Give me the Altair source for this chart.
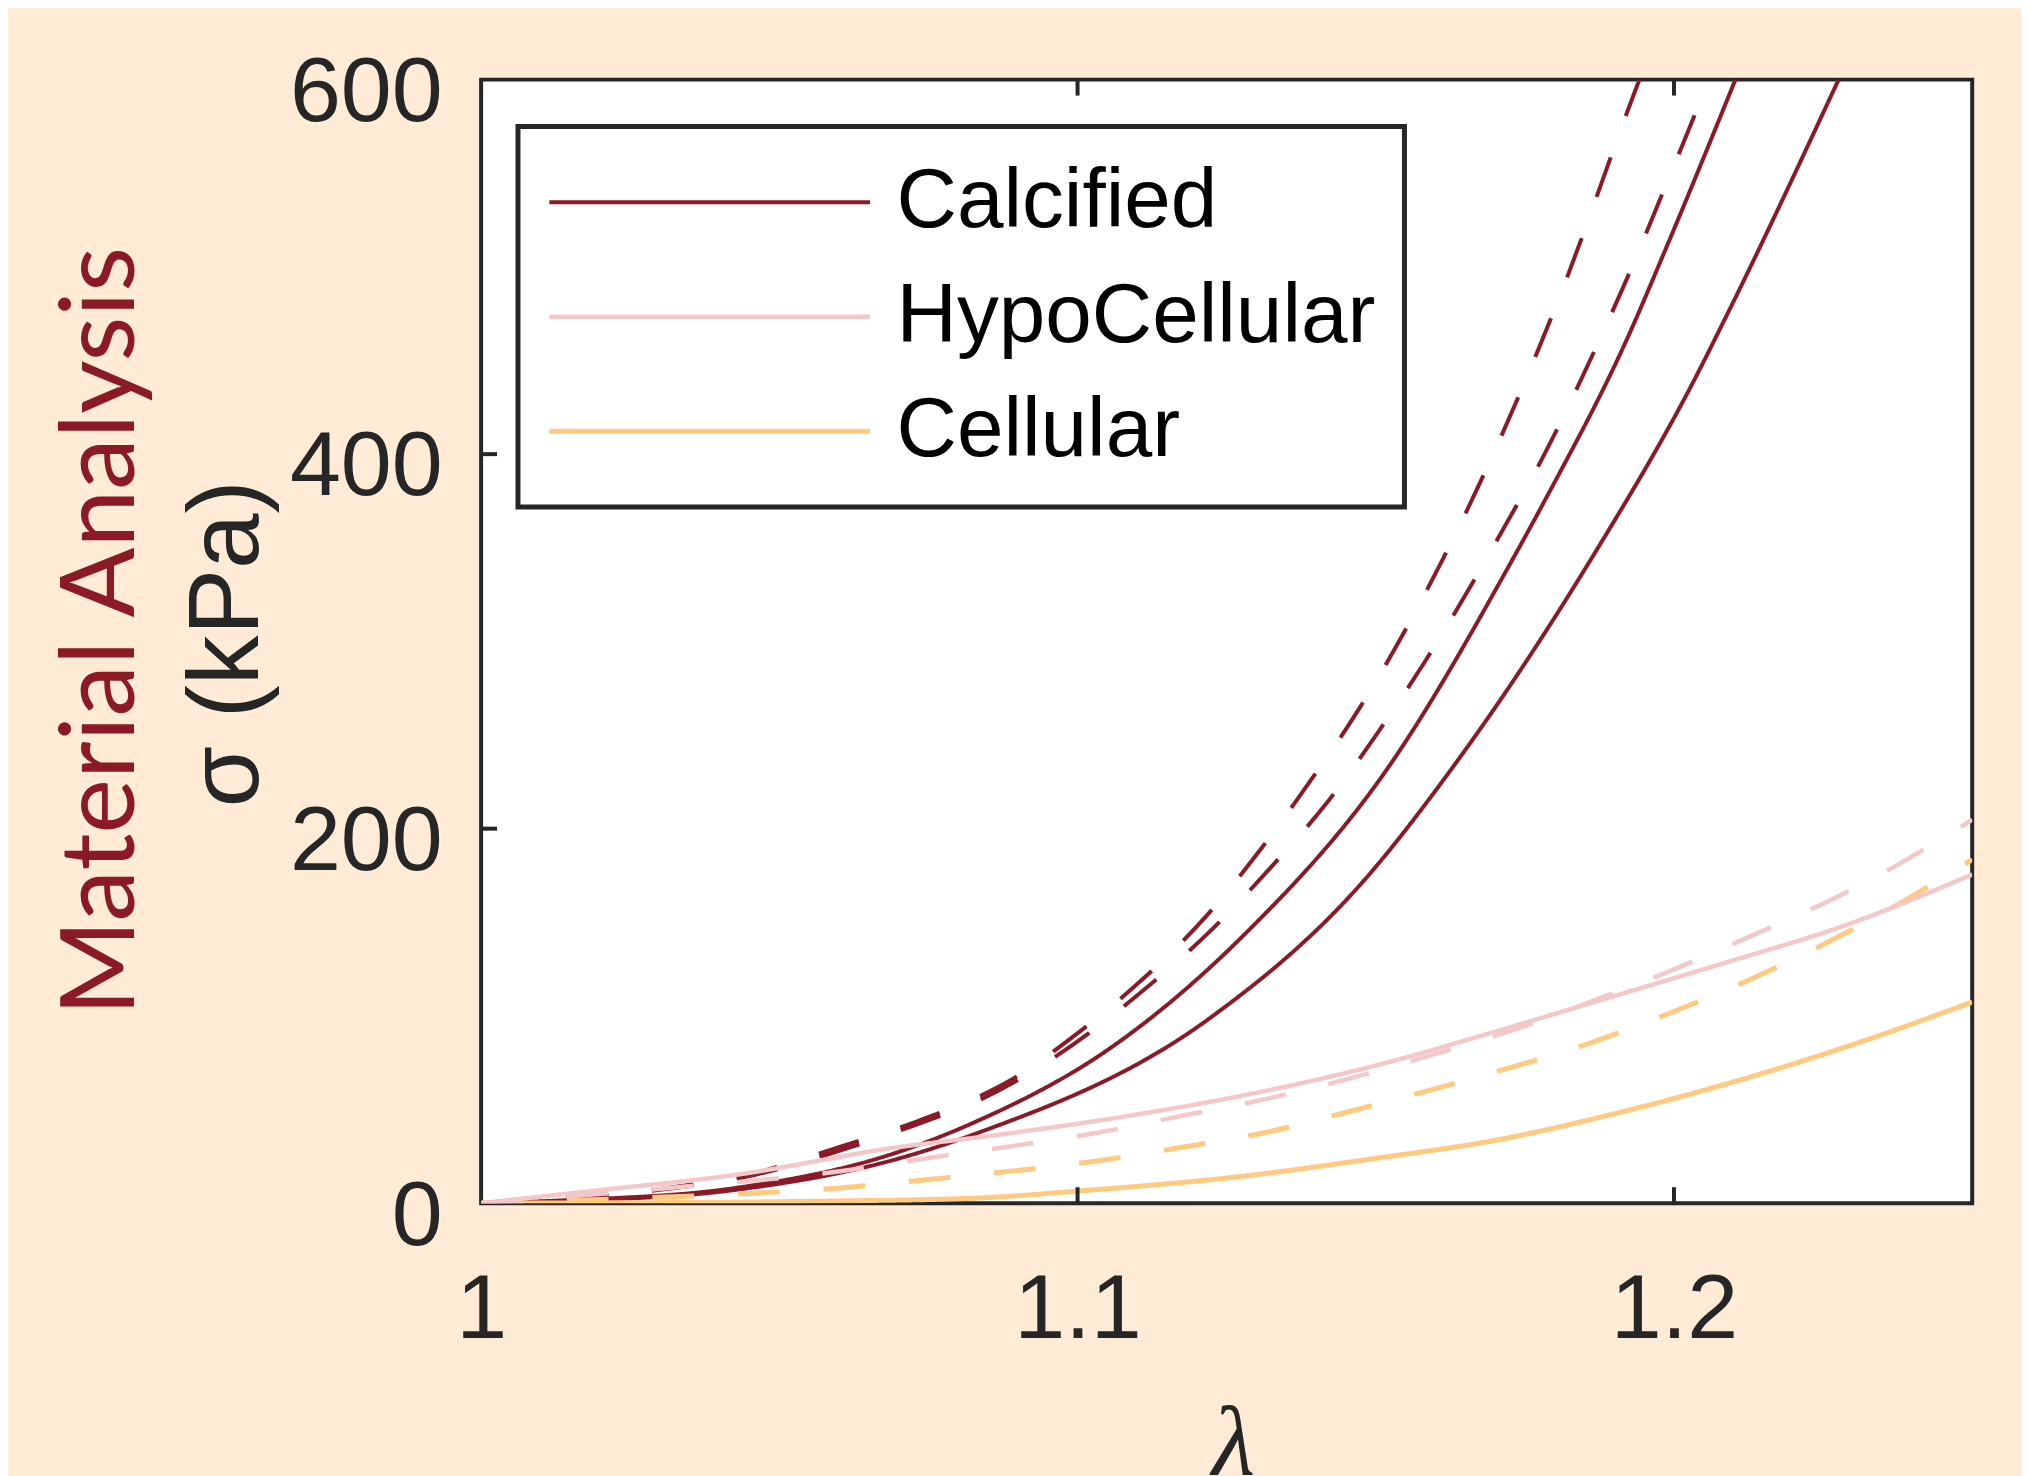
import altair as alt
import pandas as pd

# ---------------- data ----------------
materials = ["Calcified", "HypoCellular", "Cellular"]
colors = ["#8B1A26", "#F4C8C8", "#FFCA80"]

# Calcified, solid (left / right)
cs1_lam = [1.0, 1.0145, 1.0424, 1.0702, 1.083, 1.1053, 1.1277, 1.1515, 1.1728, 1.1783, 1.1922, 1.1988, 1.2103]
cs1_sig = [0, 1.6, 8, 27.6, 43.6, 82.4, 142.6, 230, 343, 375, 462, 511, 600]
cs2_lam = [1.0, 1.0145, 1.0424, 1.0702, 1.083, 1.122, 1.1471, 1.1638, 1.1863, 1.2033, 1.2089, 1.2276]
cs2_sig = [0, 1.2, 7, 24, 37.2, 98.4, 169, 236.7, 345, 439, 474.5, 600]
# Calcified, dashed (left / right)
cd1_lam = [1.0, 1.031, 1.0458, 1.0591, 1.073, 1.0835, 1.0886, 1.1003, 1.1114, 1.1215, 1.1307, 1.1387, 1.147,
           1.1611, 1.1704, 1.1813, 1.1936, 1.1942]
cd1_sig = [0, 8, 16, 29, 43.6, 57, 65.4, 91.5, 121, 153, 189, 224, 263, 343, 405, 488, 595, 600]
cd2_lam = [1.0, 1.031, 1.0458, 1.0591, 1.073, 1.0835, 1.1123, 1.1228, 1.1326, 1.1421, 1.1504, 1.1582, 1.1728,
           1.1763, 1.1888, 1.1916, 1.2, 1.2058, 1.2061]
cd2_sig = [0, 7.5, 15, 27, 42, 55, 117, 147, 180, 215, 251.6, 289, 368, 388, 470, 490, 554, 598, 600]
# HypoCellular
hs_lam = [1.0, 1.02, 1.0424, 1.0702, 1.083, 1.1053, 1.1277, 1.1499, 1.1699, 1.1883, 1.2089, 1.2284, 1.25]
hs_sig = [0, 7, 15, 30, 35, 45, 57.5, 73.4, 91.5, 109, 128.7, 148, 175.5]
hd_lam = [1.0, 1.031, 1.0602, 1.0747, 1.0886, 1.1026, 1.1165, 1.1307, 1.1443, 1.1582, 1.1754, 1.1855, 1.1989,
          1.2117, 1.2248, 1.2376, 1.25]
hd_sig = [0, 8, 17, 24, 30.3, 37.2, 46, 55, 65.4, 78, 95, 107, 123.4, 141, 159.6, 180.9, 204.8]
# Cellular
es_lam = [1.0, 1.03, 1.06, 1.083, 1.0998, 1.1277, 1.1499, 1.1699, 1.1922, 1.2145, 1.2312, 1.25]
es_sig = [0, 0.3, 1.2, 2.7, 6.4, 14.4, 23.9, 33.5, 49.5, 69, 86, 107.4]
ed_lam = [1.0, 1.02, 1.0458, 1.0597, 1.0742, 1.0886, 1.1026, 1.1165, 1.1307, 1.1443, 1.1582, 1.1699, 1.1855,
          1.1989, 1.2122, 1.2251, 1.2376, 1.25]
ed_sig = [0, 2, 5.3, 8, 12.4, 17, 22.3, 29.3, 37.2, 47.9, 59.6, 70, 85, 101, 118.6, 138.3, 159.6, 183.5]

x_ticks = [1, 1.1, 1.2]
y_ticks = [0, 200, 400, 600]
inner_x_ticks = [1.1, 1.2]
inner_y_ticks = [200, 400]

series = [
    ("Calcified", "dashed", "cd1", cd1_lam, cd1_sig),
    ("Calcified", "dashed", "cd2", cd2_lam, cd2_sig),
    ("Calcified", "solid", "cs1", cs1_lam, cs1_sig),
    ("Calcified", "solid", "cs2", cs2_lam, cs2_sig),
    ("Cellular", "dashed", "ed", ed_lam, ed_sig),
    ("Cellular", "solid", "es", es_lam, es_sig),
    ("HypoCellular", "dashed", "hd", hd_lam, hd_sig),
    ("HypoCellular", "solid", "hs", hs_lam, hs_sig),
]
rows = []
for mat, sty, sid, lams, sigs in series:
    for l, s in zip(lams, sigs):
        rows.append({"material": mat, "style": sty, "series": sid, "lam": l, "sig": s})
df = pd.DataFrame(rows)

W, H = 1497, 1128
TICK = 16

xscale = alt.Scale(domain=[1, 1.25], nice=False, zero=False)
yscale = alt.Scale(domain=[0, 600], nice=False, zero=False)

x_axis = alt.Axis(
    values=x_ticks, format=".1~f", title="λ", grid=False, domain=False, ticks=False,
    labelFont="Liberation Sans", labelFontSize=92, labelColor="#262626", labelPadding=62,
    labelFlush=False, labelOverlap=False,
    titleFont="Liberation Serif", titleFontStyle="italic", titleFontWeight="normal",
    titleFontSize=100, titleColor="#262626", titleX=755, titleY=272,
    titleBaseline="alphabetic", titleAlign="center")
y_axis = alt.Axis(
    values=y_ticks, format="d", title="σ (kPa)", grid=False, domain=False, ticks=False,
    labelFont="Liberation Sans", labelFontSize=92, labelColor="#262626", labelPadding=39,
    labelOffset=13, labelFlush=False, labelOverlap=False,
    titleFont="Liberation Sans", titleFontWeight="normal", titleFontSize=100,
    titleColor="#262626", titleAngle=270, titleX=-225, titleY=566,
    titleBaseline="alphabetic", titleAlign="center")

lines = alt.Chart(df).mark_line(clip=True, interpolate="monotone").encode(
    x=alt.X("lam:Q", scale=xscale, axis=x_axis),
    y=alt.Y("sig:Q", scale=yscale, axis=y_axis),
    color=alt.Color("material:N", scale=alt.Scale(domain=materials, range=colors),
                    legend=alt.Legend(title=None, orient="none", legendX=37, legendY=47,
                                      padding=29, fillColor="white", strokeColor="#262626",
                                      symbolType="stroke", symbolSize=103684,
                                      symbolStrokeWidth=6.5, labelFont="Liberation Sans",
                                      labelFontSize=84, labelColor="black", labelOffset=24,
                                      labelLimit=1000, rowPadding=21, clipHeight=94)),
    strokeDash=alt.StrokeDash("style:N", scale=alt.Scale(domain=["solid", "dashed"],
                                                          range=[[1, 0], [42, 44]]), legend=None),
    strokeWidth=alt.StrokeWidth("material:N", scale=alt.Scale(domain=materials, range=[4, 5, 5]),
                                legend=None),
    detail="series:N",
)

left_ticks = alt.Chart(pd.DataFrame({"sig": inner_y_ticks})).mark_rule(
    color="#262626", strokeWidth=4).encode(
    y=alt.Y("sig:Q", scale=yscale), x=alt.value(0), x2=alt.value(TICK))
bottom_ticks = alt.Chart(pd.DataFrame({"lam": inner_x_ticks})).mark_rule(
    color="#262626", strokeWidth=4).encode(
    x=alt.X("lam:Q", scale=xscale), y=alt.value(H - TICK), y2=alt.value(H))
top_ticks = alt.Chart(pd.DataFrame({"lam": inner_x_ticks})).mark_rule(
    color="#262626", strokeWidth=4).encode(
    x=alt.X("lam:Q", scale=xscale), y=alt.value(0), y2=alt.value(TICK))

side_label = alt.Chart(pd.DataFrame({"t": ["Material Analysis"]})).mark_text(
    font="Lato", fontSize=104, color="#8B1A26", angle=270, align="center",
    baseline="alphabetic").encode(text="t:N", x=alt.value(-349), y=alt.value(554))

chart = alt.layer(lines, left_ticks, bottom_ticks, top_ticks, side_label).properties(
    width=W, height=H,
    background="#FFEBD6",
    autosize=alt.AutoSizeParams(type="none"),
    padding={"left": 475, "top": 69, "right": 49, "bottom": 271},
).configure_view(fill="white", stroke="#262626", strokeWidth=4
).configure_legend(strokeColor="#262626", strokeWidth=5)

chart.save("out.html", embed_options={"renderer": "svg", "actions": False})
